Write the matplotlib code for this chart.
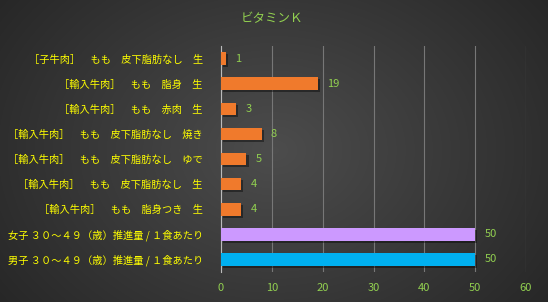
import numpy as np
import matplotlib
matplotlib.use("Agg")
import matplotlib.pyplot as plt
import matplotlib.patheffects as pe

plt.rcParams["font.family"] = ["Noto Sans CJK JP", "DejaVu Sans"]

# top to bottom as in the picture
labels = [
    "［子牛肉］　もも　皮下脂肪なし　生",
    "［輸入牛肉］　もも　脂身　生",
    "［輸入牛肉］　もも　赤肉　生",
    "［輸入牛肉］　もも　皮下脂肪なし　焼き",
    "［輸入牛肉］　もも　皮下脂肪なし　ゆで",
    "［輸入牛肉］　もも　皮下脂肪なし　生",
    "［輸入牛肉］　もも　脂身つき　生",
    "女子 ３０～４９（歳）推進量 / １食あたり",
    "男子 ３０～４９（歳）推進量 / １食あたり",
]
values = [1, 19, 3, 8, 5, 4, 4, 50, 50]
bar_colors = ["#f07a2c"] * 7 + ["#cc99ff", "#00b0f0"]
xticks = [0, 10, 20, 30, 40, 50, 60]

fig = plt.figure(figsize=(5.48, 3.02), dpi=100)

# radial dark background
bg = fig.add_axes([0, 0, 1, 1])
yy, xx = np.mgrid[0:302, 0:548]
r = np.sqrt(((xx - 274) / 300.0) ** 2 + ((yy - 150) / 230.0) ** 2)
shade = np.clip(0.30 - 0.13 * r, 0.14, 0.30)
bg.imshow(np.dstack([shade] * 3), aspect="auto", extent=[0, 1, 0, 1])
bg.axis("off")

ax = fig.add_axes([221 / 548, 30 / 302, 305 / 548, 226 / 302])
ax.patch.set_alpha(0)

ypos = np.arange(len(values))[::-1]
bars = ax.barh(ypos, values, height=0.5, color=bar_colors, zorder=3)
for b in bars:
    b.set_path_effects([pe.SimplePatchShadow(offset=(1.5, -1.5), shadow_rgbFace="black", alpha=0.4), pe.Normal()])

for y, v in zip(ypos, values):
    ax.text(v + 1.8, y, str(v), va="center", ha="left", fontsize=8, color="#92d050")

ax.set_xlim(0, 60)
ax.set_ylim(-0.5, len(values) - 0.5)
ax.set_xticks(xticks)
ax.set_xticklabels([str(t) for t in xticks], color="#92d050", fontsize=8)
ax.set_yticks(ypos)
ax.set_yticklabels(labels, color="#ffff00", fontsize=7.35)
ax.tick_params(axis="both", length=0)
ax.tick_params(axis="y", pad=13)
ax.tick_params(axis="x", pad=8)
ax.grid(axis="x", color="#777777", linewidth=0.8, zorder=0)
for s in ["top", "right", "bottom"]:
    ax.spines[s].set_visible(False)
ax.spines["left"].set_color("#bbbbbb")
ax.spines["left"].set_linewidth(0.8)

fig.text(272 / 548, 1 - 19 / 302, "ビタミンＫ", ha="center", va="center", fontsize=9, color="#92d050")

fig.savefig("out.png", dpi=100)
